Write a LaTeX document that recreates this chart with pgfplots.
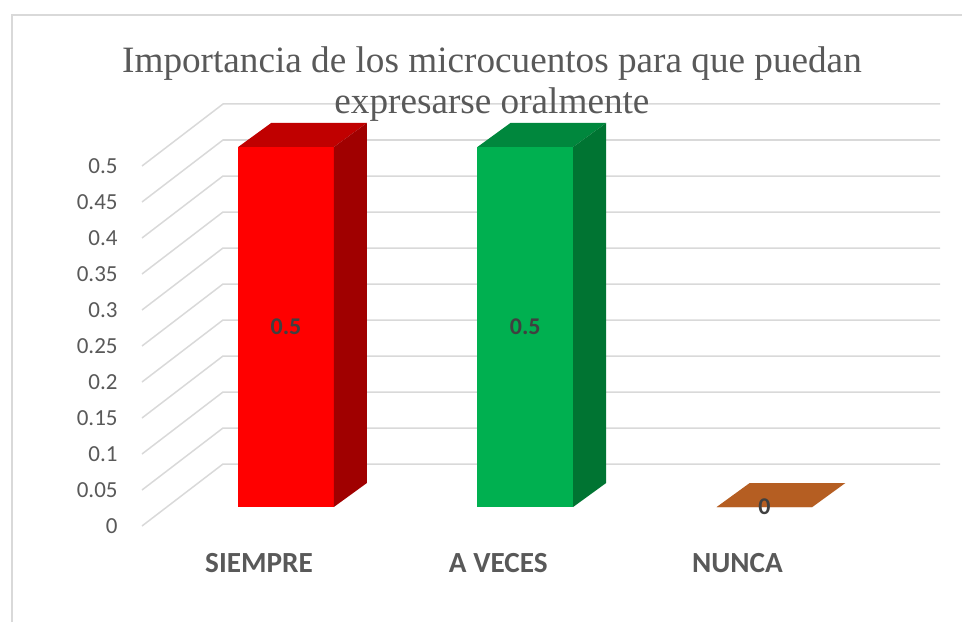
\documentclass[border=0pt]{standalone}
\usepackage{pgfplots}
\pgfplotsset{compat=1.18}
\usepackage{fontspec}
\setmainfont{Carlito}
\newfontfamily\titlefont{Liberation Serif}
\definecolor{txt}{HTML}{595959}
\definecolor{lab}{HTML}{404040}
\definecolor{gridc}{HTML}{D9D9D9}
\definecolor{redfront}{HTML}{FF0000}
\definecolor{redtop}{HTML}{C00000}
\definecolor{redside}{HTML}{A00000}
\definecolor{grnfront}{HTML}{00B050}
\definecolor{grntop}{HTML}{00873D}
\definecolor{grnside}{HTML}{007432}
\definecolor{brntop}{HTML}{B55E22}
\begin{document}
\begin{tikzpicture}
\begin{axis}[
  at={(0,0)}, anchor=south west,
  scale only axis, width=481pt, height=311pt,
  xmin=-1.195402, xmax=2.825496,
  ymin=-0.159722, ymax=0.704167,
  clip=false,
  axis line style={draw=none},
  tick style={draw=none},
  xtick={0,1,2},
  xticklabels={SIEMPRE, A VECES, NUNCA},
  xticklabel style={font=\fontsize{14.6}{16}\selectfont\bfseries, text=txt, anchor=base, yshift=25pt, xshift=-13.5pt},
  ytick={-0.026389,0.023611,0.073611,0.123611,0.173611,0.223611,0.273611,0.323611,0.373611,0.423611,0.473611},
  yticklabels={0,0.05,0.1,0.15,0.2,0.25,0.3,0.35,0.4,0.45,0.5},
  yticklabel style={font=\fontsize{11.5}{13}\selectfont, text=txt, anchor=east, inner sep=0pt, xshift=59pt},
  title={Importancia de los microcuentos para que puedan\\expresarse oralmente},
  title style={at={(rel axis cs:0.5114,0.907)}, anchor=north, align=center, inner sep=0pt,
    font=\titlefont\fontsize{18.6}{20.5}\selectfont, text=txt},
]
% frame (left and top edges, rest cropped)
\draw[gridc, line width=0.75pt] (axis cs:-1.145246,-0.159722) -- (axis cs:-1.145246,0.683333) -- (axis cs:2.825496,0.683333);
% side wall diagonals and back wall gridlines
\addplot[gridc, line width=0.75pt, unbounded coords=jump] coordinates {
(-0.601881,-0.026389) (-0.263323,0.059722) (2.733542,0.059722) (nan,nan)
(-0.601881,0.023611) (-0.263323,0.109722) (2.733542,0.109722) (nan,nan)
(-0.601881,0.073611) (-0.263323,0.159722) (2.733542,0.159722) (nan,nan)
(-0.601881,0.123611) (-0.263323,0.209722) (2.733542,0.209722) (nan,nan)
(-0.601881,0.173611) (-0.263323,0.259722) (2.733542,0.259722) (nan,nan)
(-0.601881,0.223611) (-0.263323,0.309722) (2.733542,0.309722) (nan,nan)
(-0.601881,0.273611) (-0.263323,0.359722) (2.733542,0.359722) (nan,nan)
(-0.601881,0.323611) (-0.263323,0.409722) (2.733542,0.409722) (nan,nan)
(-0.601881,0.373611) (-0.263323,0.459722) (2.733542,0.459722) (nan,nan)
(-0.601881,0.423611) (-0.263323,0.509722) (2.733542,0.509722) (nan,nan)
(-0.601881,0.473611) (-0.263323,0.559722) (2.733542,0.559722)
};
% SIEMPRE = 0.5
\addplot[ybar, bar width=0.4, fill=redfront, draw=none] coordinates {(0,0.5)};
\addplot[fill=redtop, draw=none] coordinates {(-0.2,0.5) (0.2,0.5) (0.338,0.533333) (-0.062,0.533333)} -- cycle;
\addplot[fill=redside, draw=none] coordinates {(0.2,0) (0.338,0.033333) (0.338,0.533333) (0.2,0.5)} -- cycle;
% A VECES = 0.5
\addplot[ybar, bar width=0.4, fill=grnfront, draw=none] coordinates {(1,0.5)};
\addplot[fill=grntop, draw=none] coordinates {(0.8,0.5) (1.2,0.5) (1.338,0.533333) (0.938,0.533333)} -- cycle;
\addplot[fill=grnside, draw=none] coordinates {(1.2,0) (1.338,0.033333) (1.338,0.533333) (1.2,0.5)} -- cycle;
% NUNCA = 0
\addplot[ybar, bar width=0.4, fill=brntop, draw=none] coordinates {(2,0)};
\addplot[fill=brntop, draw=none] coordinates {(1.8,0) (2.2,0) (2.338,0.033333) (1.938,0.033333)} -- cycle;
% data labels
\addplot[draw=none, nodes near coords, point meta=explicit symbolic,
  nodes near coords style={anchor=center, font=\fontsize{12}{14}\selectfont\bfseries, text=lab}]
  coordinates {(0,0.25)[0.5] (1,0.25)[0.5] (2,0)[0]};
\end{axis}
\pgfresetboundingbox
\path[use as bounding box] (0,0) rectangle (481pt,311pt);
\end{tikzpicture}
\end{document}
